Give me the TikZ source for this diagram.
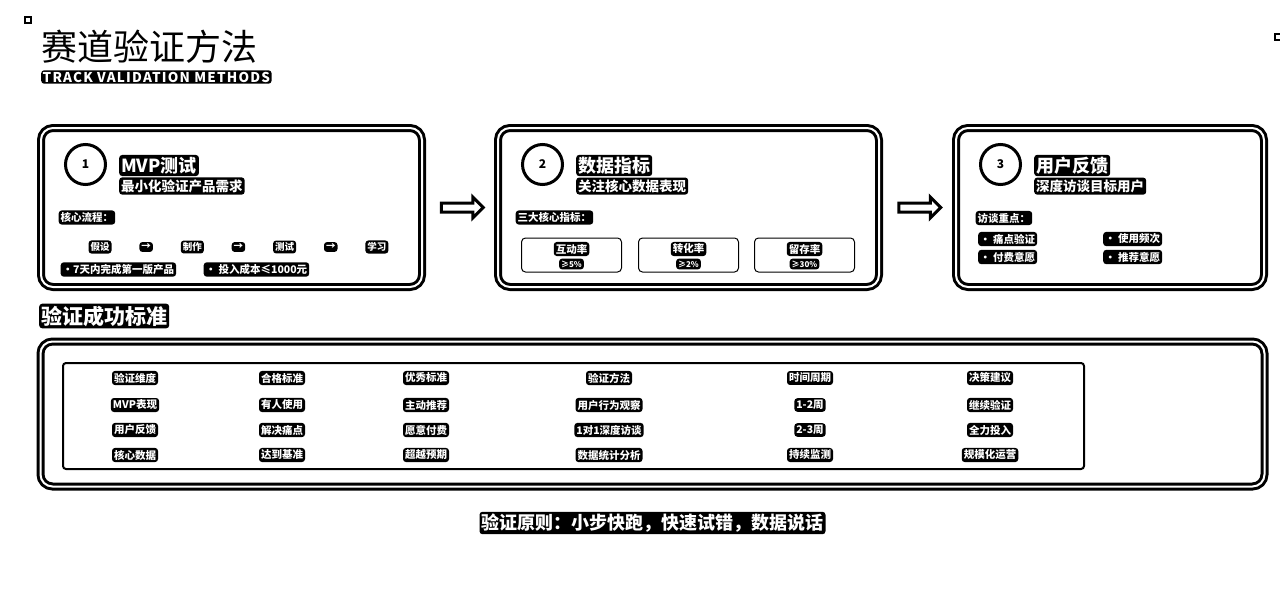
\documentclass[tikz,border=0pt]{standalone}
\usepackage{fontspec}
\setmainfont{Noto Sans CJK SC}
\usetikzlibrary{positioning,shapes.arrows,calc}

\begin{document}
\begin{tikzpicture}[
    x=1pt, y=1pt,
    every node/.style={font=\bfseries},
    card/.style={rectangle, draw=black, line width=3pt, double=white, double distance=2pt, rounded corners=12pt, inner sep=0pt},
    tag/.style={fill=black, text=white, rounded corners=3pt, inner sep=2pt, font=\bfseries\fontsize{10.5}{12}\selectfont},
    small/.style={tag, font=\bfseries\fontsize{8}{10}\selectfont},
    flow/.style={tag, font=\bfseries\fontsize{9.5}{10}\selectfont},
    head/.style={tag, font=\bfseries\fontsize{18}{21}\selectfont},
    sub/.style={tag, font=\bfseries\fontsize{13.5}{15}\selectfont},
    num/.style={circle, draw=black, line width=3pt, minimum size=40pt, inner sep=0pt, font=\bfseries\fontsize{12}{13}\selectfont},
    metric/.style={rectangle, draw=black, line width=1pt, rounded corners=4pt, minimum width=100pt, minimum height=34pt},
    bigarrow/.style={single arrow, draw=black, line width=3pt, fill=white, minimum height=42pt, single arrow head extend=6pt, inner sep=3pt}
]
    \useasboundingbox (0,0) rectangle (1280,-605);
    \fill[white] (0,0) rectangle (1280,-605);
    \draw[line width=1.5pt] (25,-17) rectangle (31,-23);
    \draw[line width=1.5pt] (1275,-34) rectangle (1281,-40);

    % title
    \node[font=\fontsize{36}{40}\selectfont, anchor=west, inner sep=0pt] (title) at (41,-47) {赛道验证方法};
    \node[tag, font=\bfseries\fontsize{13.5}{15}\selectfont\addfontfeature{LetterSpace=9}, anchor=west, inner sep=1.5pt] (titleEn) at (41,-77) {TRACK VALIDATION METHODS};

    % three methods
    \node[card, minimum width=381pt, minimum height=159pt] (mvp) at (231.5,-207.5) {};
    \node[card, minimum width=381pt, minimum height=159pt, right=73pt of mvp] (data) {};
    \node[card, minimum width=308pt, minimum height=159pt, right=74pt of data] (fb) {};

    \node[bigarrow] (a1) at ($(mvp.east)!0.5!(data.west)$) {};
    \node[bigarrow] (a2) at ($(data.east)!0.5!(fb.west)$) {};

    % card 1
    \node[num] (n1) at ($(mvp.north west)+(46,-38)$) {1};
    \node[head, anchor=west] (mvpT) at ($(n1.east)+(12,-1)$) {MVP测试};
    \node[sub, below=1pt of mvpT.south west, anchor=north west] (mvpS) {最小化验证产品需求};
    \node[tag, anchor=west] (mvpK) at ($(mvp.west)+(19,-10)$) {核心流程：};
    \node[flow] (f1) at (100,-247) {假设};
    \node[flow, right=27.5pt of f1] (f1a) {→};
    \node[flow, right=27.5pt of f1a] (f2) {制作};
    \node[flow, right=27.5pt of f2] (f2a) {→};
    \node[flow, right=27.5pt of f2a] (f3) {测试};
    \node[flow, right=27.5pt of f3] (f3a) {→};
    \node[flow, right=27.5pt of f3a] (f4) {学习};
    \node[tag, anchor=west] (mvpB1) at ($(mvp.south west)+(21,19)$) {•7天内完成第一版产品};
    \node[tag, anchor=west] (mvpB2) at ($(mvp.south west)+(164,19)$) {• 投入成本≤1000元};

    % card 2
    \node[num] (n2) at ($(data.north west)+(46,-38)$) {2};
    \node[head, anchor=west] (dataT) at ($(n2.east)+(12,-1)$) {数据指标};
    \node[sub, below=1pt of dataT.south west, anchor=north west] (dataS) {关注核心数据表现};
    \node[tag, anchor=west] (dataK) at ($(data.west)+(19,-10)$) {三大核心指标：};
    \node[metric] (m1) at ($(data.south)+(-117,33.5)$) {};
    \node[metric] (m2) at ($(data.south)+(0,33.5)$) {};
    \node[metric] (m3) at ($(data.south)+(116,33.5)$) {};
    \node[tag] (m1a) at ($(m1.center)+(0,6)$) {互动率};
    \node[small] (m1b) at ($(m1.center)+(0,-9)$) {≥5\%};
    \node[tag] (m2a) at ($(m2.center)+(0,6)$) {转化率};
    \node[small] (m2b) at ($(m2.center)+(0,-9)$) {≥2\%};
    \node[tag] (m3a) at ($(m3.center)+(0,6)$) {留存率};
    \node[small] (m3b) at ($(m3.center)+(0,-9)$) {≥30\%};

    % card 3
    \node[num] (n3) at ($(fb.north west)+(46,-38)$) {3};
    \node[head, anchor=west] (fbT) at ($(n3.east)+(12,-1)$) {用户反馈};
    \node[sub, below=1pt of fbT.south west, anchor=north west] (fbS) {深度访谈目标用户};
    \node[tag, anchor=west] (fbK) at ($(fb.west)+(21,-10.5)$) {访谈重点：};
    \node[tag, anchor=west] (fb1) at (978,-239) {• 痛点验证};
    \node[tag, anchor=west] (fb2) at (1103,-239) {• 使用频次};
    \node[tag, anchor=west] (fb3) at (978,-257) {• 付费意愿};
    \node[tag, anchor=west] (fb4) at (1103,-257) {• 推荐意愿};

    % standards table
    \node[tag, font=\bfseries\fontsize{21}{24}\selectfont, anchor=west] (stdT) at (39,-316) {验证成功标准};
    \node[card, minimum width=1224pt, minimum height=145pt] (std) at (652.5,-414) {};
    \node[rectangle, draw=black, line width=2pt, rounded corners=3pt, minimum width=1021pt, minimum height=106pt] (grid) at (573.5,-416) {};

    \node[tag] (h1) at (135,-378) {验证维度};
    \node[tag] (h2) at (282,-378) {合格标准};
    \node[tag] (h3) at (426,-378) {优秀标准};
    \node[tag] (h4) at (609,-378) {验证方法};
    \node[tag] (h5) at (810,-378) {时间周期};
    \node[tag] (h6) at (990,-378) {决策建议};

    \node[tag] (r1c1) at (135,-405) {MVP表现};
    \node[tag] (r1c2) at (282,-405) {有人使用};
    \node[tag] (r1c3) at (426,-405) {主动推荐};
    \node[tag] (r1c4) at (609,-405) {用户行为观察};
    \node[tag] (r1c5) at (810,-405) {1-2周};
    \node[tag] (r1c6) at (990,-405) {继续验证};

    \node[tag] (r2c1) at (135,-430) {用户反馈};
    \node[tag] (r2c2) at (282,-430) {解决痛点};
    \node[tag] (r2c3) at (426,-430) {愿意付费};
    \node[tag] (r2c4) at (609,-430) {1对1深度访谈};
    \node[tag] (r2c5) at (810,-430) {2-3周};
    \node[tag] (r2c6) at (990,-430) {全力投入};

    \node[tag] (r3c1) at (135,-455) {核心数据};
    \node[tag] (r3c2) at (282,-455) {达到基准};
    \node[tag] (r3c3) at (426,-455) {超越预期};
    \node[tag] (r3c4) at (609,-455) {数据统计分析};
    \node[tag] (r3c5) at (810,-455) {持续监测};
    \node[tag] (r3c6) at (990,-455) {规模化运营};

    \node[tag, font=\bfseries\fontsize{18}{21}\selectfont] (rule) at (652.5,-523) {验证原则：小步快跑，快速试错，数据说话};
\end{tikzpicture}
\end{document}
